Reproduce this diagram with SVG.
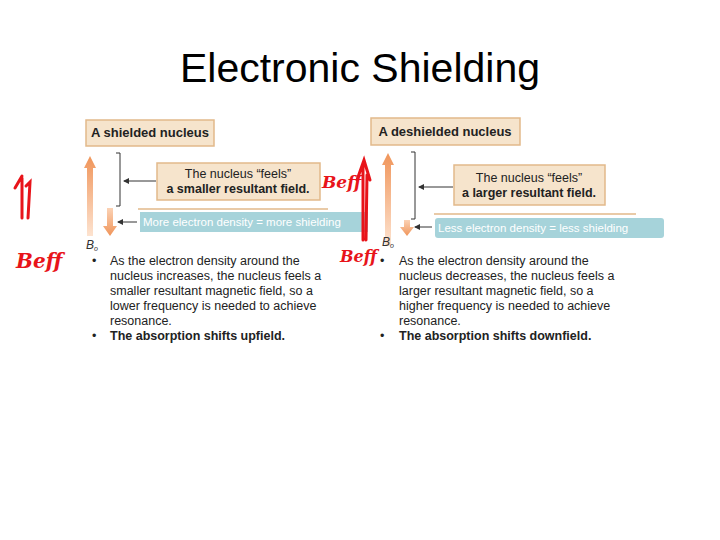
<svg xmlns="http://www.w3.org/2000/svg" width="720" height="540" viewBox="0 0 720 540">
<defs>
<linearGradient id="up" x1="0" y1="0" x2="0" y2="1"><stop offset="0" stop-color="#f0955a"/><stop offset="1" stop-color="#fde3d0"/></linearGradient>
<linearGradient id="dn" x1="0" y1="0" x2="0" y2="1"><stop offset="0" stop-color="#fbd2b5"/><stop offset="1" stop-color="#f0955a"/></linearGradient>
<marker id="ah" markerWidth="6" markerHeight="6" refX="5" refY="3" orient="auto"><path d="M0,0 L6,3 L0,6 z" fill="#333"/></marker>
<style>
text{font-family:"Liberation Sans",Arial,sans-serif}
.tb{fill:#f6e4cc;stroke:#e2b98a;stroke-width:1.5}
.h{font-size:13px;font-weight:bold;fill:#222}
.b{font-size:12.5px;fill:#222}
.bb{font-size:12.5px;fill:#222;font-weight:bold}
.ln{stroke:#333;stroke-width:1;fill:none}
.teal{fill:#a6d3da}
.tt{font-size:11.5px;fill:#fff}
.red{fill:#e8141a;font-family:"DejaVu Serif",serif;font-style:italic;font-weight:bold}
.rl{stroke:#e8141a;stroke-width:3;fill:none;stroke-linecap:round}
</style>
</defs>
<rect width="720" height="540" fill="#fff"/>
<text x="360" y="82" text-anchor="middle" font-size="41" fill="#000">Electronic Shielding</text>

<g id="left">
<rect class="tb" x="86" y="120" width="128" height="26"/>
<text class="h" x="150" y="137" text-anchor="middle">A shielded nucleus</text>
<path d="M84,168 L90,156 L96,168 L93,168 L93,236 L87,236 L87,168 z" fill="url(#up)"/>
<path d="M107,208 L113,208 L113,226 L117,226 L110,236 L103,226 L107,226 z" fill="url(#dn)"/>
<path class="ln" d="M116,153 L120,153 L120,206 L116,206"/>
<rect class="tb" x="157" y="163" width="163" height="37"/>
<text class="b" x="238" y="178" text-anchor="middle">The nucleus “feels”</text>
<text class="bb" x="238" y="193" text-anchor="middle">a smaller resultant field.</text>
<line class="ln" x1="156" y1="181" x2="124" y2="181" marker-end="url(#ah)"/>
<line x1="138" y1="209" x2="328" y2="209" stroke="#e2b98a" stroke-width="1.5"/>
<rect class="teal" x="140" y="212" width="228" height="20"/>
<text class="tt" x="143" y="226">More electron density = more shielding</text>
<line class="ln" x1="137" y1="222" x2="118" y2="222" marker-end="url(#ah)"/>
<text x="86" y="249" font-size="12" font-style="italic" fill="#333">B<tspan font-size="7" dy="2">o</tspan></text>
<text class="b"><tspan x="92" y="265">•</tspan><tspan x="110" y="265">As the electron density around the</tspan><tspan x="110" y="280">nucleus increases, the nucleus feels a</tspan><tspan x="110" y="295">smaller resultant magnetic field, so a</tspan><tspan x="110" y="310">lower frequency is needed to achieve</tspan><tspan x="110" y="325">resonance.</tspan><tspan x="92" y="340">•</tspan><tspan x="110" y="340" font-weight="bold">The absorption shifts upfield.</tspan></text>
</g>

<g id="right">
<rect class="tb" x="371" y="118" width="149" height="27"/>
<text class="h" x="445" y="136" text-anchor="middle">A deshielded nucleus</text>
<path d="M382,165 L388,153 L394,165 L391,165 L391,246 L385,246 L385,165 z" fill="url(#up)"/>
<path d="M404,220 L410,220 L410,227 L414,227 L407,236 L400,227 L404,227 z" fill="url(#dn)"/>
<path class="ln" d="M411,152 L415,152 L415,219 L411,219"/>
<rect class="tb" x="454" y="165" width="151" height="40"/>
<text class="b" x="529" y="182" text-anchor="middle">The nucleus “feels”</text>
<text class="bb" x="529" y="197" text-anchor="middle">a larger resultant field.</text>
<line class="ln" x1="453" y1="187" x2="419" y2="187" marker-end="url(#ah)"/>
<line x1="434" y1="214" x2="636" y2="214" stroke="#e2b98a" stroke-width="1.5"/>
<rect class="teal" x="435" y="218" width="229" height="20" rx="3"/>
<text class="tt" x="438" y="232">Less electron density = less shielding</text>
<line class="ln" x1="432" y1="227" x2="415" y2="227" marker-end="url(#ah)"/>
<text x="382" y="246" font-size="12" font-style="italic" fill="#333">B<tspan font-size="7" dy="2">o</tspan></text>
<text class="b"><tspan x="380" y="265">•</tspan><tspan x="399" y="265">As the electron density around the</tspan><tspan x="399" y="280">nucleus decreases, the nucleus feels a</tspan><tspan x="399" y="295">larger resultant magnetic field, so a</tspan><tspan x="399" y="310">higher frequency is needed to achieve</tspan><tspan x="399" y="325">resonance.</tspan><tspan x="380" y="340">•</tspan><tspan x="399" y="340" font-weight="bold">The absorption shifts downfield.</tspan></text>
</g>

<g id="annotations">
<path class="rl" d="M22,218 L22,178 M15,188 L22,176 M28,218 L30,182 L26,186"/>
<text class="red" x="16" y="268" font-size="20">Beff</text>
<text class="red" x="322" y="188" font-size="17">Beff</text>
<path class="rl" d="M363,240 L363,163 M357,180 L364,160 L370,180 M366,240 L367,175"/>
<text class="red" x="340" y="262" font-size="16">Beff</text>
</g>
</svg>
